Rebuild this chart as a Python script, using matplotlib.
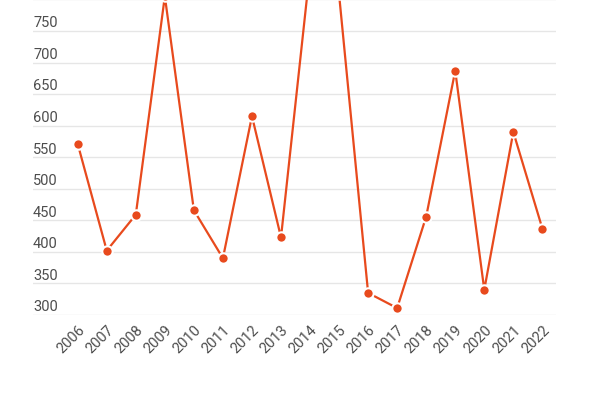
import matplotlib
matplotlib.use("Agg")
import matplotlib.pyplot as plt
from matplotlib import transforms

years = [2006, 2007, 2008, 2009, 2010, 2011, 2012, 2013, 2014,
         2015, 2016, 2017, 2018, 2019, 2020, 2021, 2022]
values = [571, 402, 459, 805, 466, 390, 615, 423, 848,
          808, 335, 311, 456, 687, 340, 590, 437]
y_ticks = [300, 350, 400, 450, 500, 550, 600, 650, 700, 750]
grid_extra = [800, 850]

plt.rcParams['font.family'] = ['Roboto', 'DejaVu Sans']

fig = plt.figure(figsize=(6, 4), dpi=100)
ymin, ymax = 300, 900
px_per_unit = 284 / 450
ax = fig.add_axes([33 / 600, 85 / 400, 523 / 600, (ymax - ymin) * px_per_unit / 400])

line_color = '#e84a1d'
x = list(range(len(years)))
ax.plot(x, values, color=line_color, lw=1.6, marker='o', markersize=7.5,
        markerfacecolor=line_color, markeredgecolor='white', markeredgewidth=1.5,
        clip_on=False, zorder=3)

ax.set_xlim(-1.54, len(years) - 1 + 0.47)
ax.set_ylim(ymin, ymax)

label_tr = (transforms.blended_transform_factory(ax.transAxes, ax.transData)
            + transforms.ScaledTranslation(0, 3.7 / 100, fig.dpi_scale_trans))
for t in y_ticks + grid_extra:
    ax.axhline(t, color='#e6e6e6', lw=1, zorder=1)
for t in y_ticks:
    ax.text(0, t, str(t), transform=label_tr,
            ha='left', va='baseline', fontsize=10.5, color='#4d4d4d')

ax.set_yticks([])
ax.set_xticks(x)
ax.set_xticklabels([str(y) for y in years], rotation=45, ha='right',
                   rotation_mode='anchor', fontsize=10.5, color='#4d4d4d')
ax.tick_params(axis='x', length=0, pad=6)
for s in ax.spines.values():
    s.set_visible(False)
ax.patch.set_visible(False)

fig.savefig('out.png', dpi=100)
